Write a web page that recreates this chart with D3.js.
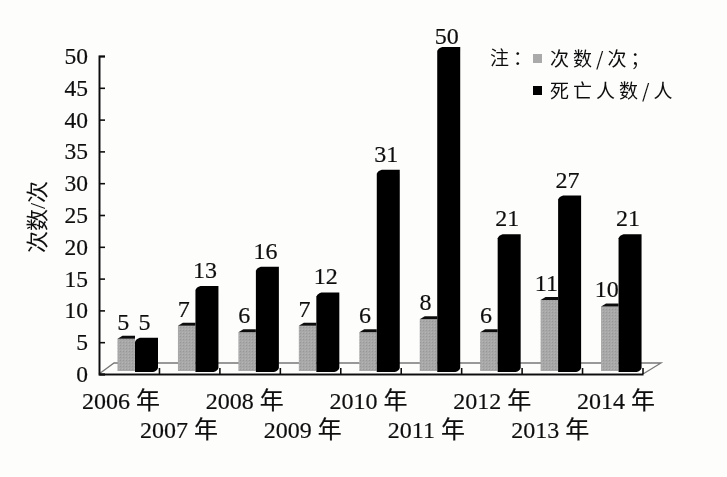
<!DOCTYPE html>
<html><head><meta charset="utf-8">
<script src="https://cdn.jsdelivr.net/npm/d3@7"></script>
<style>html,body{margin:0;padding:0;background:#fdfdfc}svg{display:block}</style>
</head><body><svg id="c" width="727" height="477"></svg>
<script>
const years=["2006 年","2007 年","2008 年","2009 年","2010 年","2011 年","2012 年","2013 年","2014 年"];
const counts=[5,7,6,7,6,8,6,11,10];
const deaths=[5,13,16,12,31,50,21,27,21];
const yTicks=[0,5,10,15,20,25,30,35,40,45,50];
const serif='"Liberation Serif","Noto Sans CJK SC",serif';
const cjk='"Noto Sans CJK SC",serif';
const ink="#111";
const svg=d3.select("#c");
const defs=svg.append("defs");
defs.append("filter").attr("id","soft").append("feGaussianBlur").attr("stdDeviation",0.45);
const pat=defs.append("pattern").attr("id","grain").attr("width",3).attr("height",3).attr("patternUnits","userSpaceOnUse");
pat.append("rect").attr("width",3).attr("height",3).attr("fill","#a8a8a8");
pat.append("rect").attr("width",1).attr("height",1).attr("fill","#989898");
pat.append("rect").attr("x",2).attr("y",2).attr("width",1).attr("height",1).attr("fill","#b4b4b4");

const x=d3.scaleBand().domain(years).range([99,643]);
const labelX=d3.scalePoint().domain(years).range([121,616]);
const y=d3.scaleLinear().domain([0,50]).range([374,56]);
const barY=d3.scaleLinear().domain([0,50]).range([371,48]);
const g=svg.append("g").attr("filter","url(#soft)");

// floor
const depthX=15,depthY=11;
g.append("path").attr("fill","none").attr("stroke","#777").attr("stroke-width",1.3)
 .attr("d",d3.line()([[99,y(0)],[99+depthX,y(0)-depthY],[643+depthX+3,y(0)-depthY],[643,y(0)]]));

const gx0=d=>x(d)+18.5, gx1=d=>x(d)+36, bx1=d=>x(d)+59;
const rows=years.map((d,i)=>({d,c:counts[i],k:deaths[i]}));
// gray bars
const gb=g.append("g").selectAll("g").data(rows).join("g");
gb.append("rect").attr("x",r=>gx0(r.d)).attr("width",r=>gx1(r.d)-gx0(r.d))
 .attr("y",r=>barY(r.c)).attr("height",r=>barY(0)-barY(r.c)).attr("fill","url(#grain)");
gb.append("path").attr("fill","#111")
 .attr("d",r=>d3.line()([[gx0(r.d),barY(r.c)],[gx0(r.d)+5,barY(r.c)-3],[gx1(r.d),barY(r.c)-3],[gx1(r.d),barY(r.c)]])+"Z");
// black bars
g.append("g").selectAll("path").data(rows).join("path").attr("fill","#050505")
 .attr("d",r=>{const a=gx1(r.d),b=bx1(r.d),t=barY(r.k)-1,m=barY(0)+1;
   return `M${a},${t+4}Q${a+1},${t+1} ${a+5},${t}L${b},${t}L${b},${m-4}Q${b-1},${m-1} ${b-5},${m}L${a},${m}Z`;});

// axes
const ax=g.append("g").attr("transform",`translate(99,0)`)
 .call(d3.axisRight(y).tickValues(yTicks).tickSize(6).tickFormat(""));
ax.select(".domain").attr("stroke",ink).attr("stroke-width",2);
ax.selectAll(".tick line").attr("stroke",ink).attr("stroke-width",1.6);
const bx=g.append("g").attr("transform",`translate(0,${y(0)})`)
 .call(d3.axisTop(x).tickValues([]).tickSize(0));
bx.select(".domain").attr("stroke",ink).attr("stroke-width",2);
g.append("g").selectAll("line").data(years).join("line")
 .attr("x1",d=>x(d)+x.bandwidth()).attr("x2",d=>x(d)+x.bandwidth())
 .attr("y1",y(0)).attr("y2",y(0)-6).attr("stroke",ink).attr("stroke-width",1.6);

// y tick labels
g.append("g").selectAll("text").data(yTicks).join("text")
 .attr("x",88).attr("y",d=>y(d)+8).attr("text-anchor","end")
 .attr("font-family",serif).attr("font-size",23.5).attr("fill",ink).attr("stroke",ink).attr("stroke-width",0.2).text(d=>d);
// x labels (staggered)
g.append("g").selectAll("text").data(years).join("text")
 .attr("x",(d,i)=>labelX(d)-(i%2?4:0)).attr("y",(d,i)=>i%2?438:409).attr("text-anchor","middle")
 .attr("font-family",serif).attr("font-size",24).attr("fill",ink).attr("stroke",ink).attr("stroke-width",0.2).text(d=>d);
// value labels
const labelY=v=>Math.max(barY(v)-9,44);
g.append("g").selectAll("text").data(rows).join("text")
 .attr("x",r=>(gx0(r.d)+gx1(r.d))/2-3).attr("y",r=>labelY(r.c)).attr("text-anchor","middle")
 .attr("font-family",serif).attr("font-size",24).attr("fill",ink).attr("stroke",ink).attr("stroke-width",0.2).text(r=>r.c);
g.append("g").selectAll("text").data(rows).join("text")
 .attr("x",r=>(gx1(r.d)+bx1(r.d))/2-2).attr("y",r=>labelY(r.k)).attr("text-anchor","middle")
 .attr("font-family",serif).attr("font-size",24).attr("fill",ink).attr("stroke",ink).attr("stroke-width",0.2).text(r=>r.k);
// y title
g.append("text").attr("transform","translate(45,217) rotate(-90)").attr("text-anchor","middle")
 .attr("font-family",serif).attr("font-size",22).attr("fill",ink).text("次数/次");
// legend
const lg=g.append("g").attr("font-family",cjk).attr("font-size",19).attr("fill",ink).attr("letter-spacing",4);
lg.append("text").attr("x",490).attr("y",65).text("注：");
lg.append("rect").attr("x",533).attr("y",54).attr("width",9).attr("height",9).attr("fill","#aaa");
lg.append("text").attr("x",550).attr("y",66).text("次数/次；");
lg.append("rect").attr("x",533).attr("y",86).attr("width",9).attr("height",9).attr("fill","#050505");
lg.append("text").attr("x",550).attr("y",98).text("死亡人数/人");
</script></body></html>
